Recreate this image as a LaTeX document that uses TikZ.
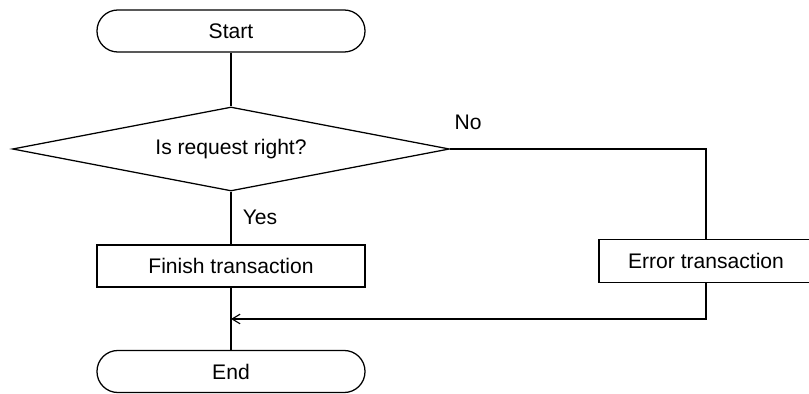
\documentclass[tikz,border=0pt]{standalone}
\usepackage{fontspec}
\setmainfont{Liberation Sans}
\usetikzlibrary{shapes.geometric,arrows.meta}

\tikzset{
    terminal/.style={draw, rectangle, rounded corners=0.52cm, minimum width=6.7cm, minimum height=1.05cm, inner sep=0pt},
    procbox/.style={draw, rectangle, minimum width=6.7cm, minimum height=1.05cm, inner sep=0pt},
    decision/.style={draw, diamond, aspect=5.2, minimum width=10.925cm, minimum height=2.1cm, inner sep=0pt},
    flowline/.style={line width=0.9pt},
}

\begin{document}
\begin{tikzpicture}[font=\fontsize{15}{18}\selectfont, line width=0.9pt]
        \useasboundingbox (0,0) rectangle (20.225,-9.85);
        \clip (0,0) rectangle (20.225,-9.85);

        % Main column
        \node[terminal] (start) at (5.775,-0.775) {Start};
        \node[decision] (check) at (5.775,-3.725) {Is request right?};
        \node[procbox] (finish) at (5.775,-6.65) {Finish transaction};
        \node[terminal] (end) at (5.775,-9.2875) {End};

        % Error branch
        \node[procbox, minimum width=5.35cm, minimum height=1.075cm] (error) at (17.65,-6.525) {Error transaction};

        \coordinate (nocorner) at (17.65,-3.725);
        \coordinate (backcorner) at (17.65,-7.975);
        \coordinate (merge) at (5.775,-7.975);

        \draw[flowline] (start) -- (check);
        \draw[flowline] (check) -- (finish);
        \draw[flowline] (finish) -- (end);

        \draw[flowline] (check.east) -- (nocorner) -- (error.north);
        \draw[flowline, -{Straight Barb[length=2mm, width=2.4mm, line width=0.8pt]}] (error.south) -- (backcorner) -- (merge);

        % Branch labels
        \node (nolabel) at (11.7,-3.05) {No};
        \node (yeslabel) at (6.5,-5.425) {Yes};
    \end{tikzpicture}
\end{document}
